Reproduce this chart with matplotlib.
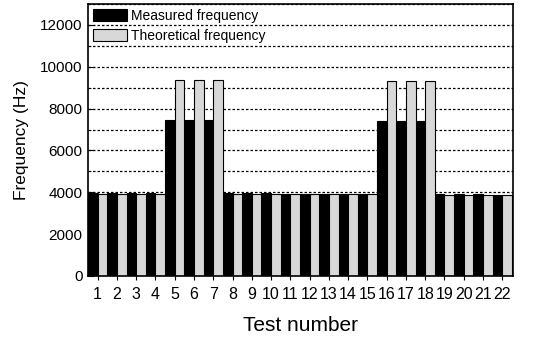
import numpy as np
import matplotlib.pyplot as plt
from matplotlib.ticker import MultipleLocator

plt.rcParams['font.family'] = ['Liberation Sans', 'DejaVu Sans']

# data
tests = np.arange(1, 23)
measured = [3950, 3950, 3950, 3950, 7470, 7460, 7460, 3950, 3950, 3950, 3920,
            3920, 3920, 3920, 3920, 7420, 7420, 7420, 3900, 3900, 3900, 3880]
theoretical = [3920, 3920, 3920, 3920, 9360, 9360, 9360, 3920, 3920, 3920, 3900,
               3900, 3900, 3900, 3900, 9320, 9320, 9320, 3880, 3880, 3880, 3880]

fig = plt.figure(figsize=(5.44, 3.39), dpi=100)
ax = fig.add_axes([0.1618, 0.186, 0.781, 0.802])

w = 0.5
ax.bar(tests - w / 2, measured, width=w, color='black', edgecolor='black',
       linewidth=0.8, label='Measured frequency', zorder=2)
ax.bar(tests + w / 2, theoretical, width=w, color='#d8d8d8', edgecolor='black',
       linewidth=0.8, label='Theoretical frequency', zorder=2)

ax.set_xlim(0.5, 22.55)
ax.set_ylim(0, 13000)
ax.set_xticks(tests)
ax.set_xticklabels([str(t) for t in tests], fontsize=11.5)
ax.yaxis.set_major_locator(MultipleLocator(2000))
ax.yaxis.set_minor_locator(MultipleLocator(1000))
ax.tick_params(axis='y', labelsize=11, direction='in', length=4, pad=4)
ax.tick_params(axis='y', which='minor', direction='in', length=2)
ax.tick_params(axis='x', direction='out', length=3, pad=5)
ax.grid(axis='y', which='both', color='black', linestyle=(0, (2, 1.6)),
        linewidth=0.9, zorder=0)
ax.set_axisbelow(True)

for s in ax.spines.values():
    s.set_linewidth(1.2)

ax.set_xlabel('Test number', fontsize=15, labelpad=10)
ax.set_ylabel('Frequency (Hz)', fontsize=12.5, labelpad=8)

leg = ax.legend(loc='upper left', frameon=False, fontsize=10, handlelength=2.45,
                handleheight=0.95, borderaxespad=0.2, borderpad=0.15,
                labelspacing=0.45, handletextpad=0.3)

fig.savefig('out.png', dpi=100)
